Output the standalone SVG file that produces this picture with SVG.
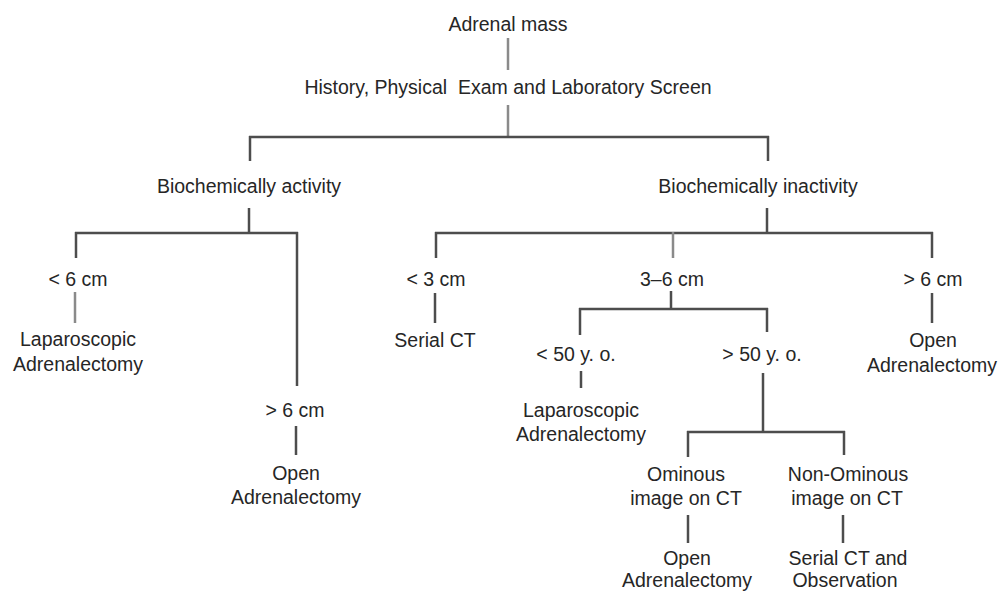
<svg xmlns="http://www.w3.org/2000/svg" width="998" height="593" viewBox="0 0 998 593">
<style>
text{font-family:"Liberation Sans",Arial,sans-serif;font-size:19.5px;fill:#262626;text-anchor:middle}
.c line{stroke:#4d4d4d;stroke-width:2.5;stroke-linecap:butt}
.c line.l{stroke:#8a8a8a}
</style>
<rect width="998" height="593" fill="#fff"/>
<g class="c" id="connectors">
<line class="l" x1="508" y1="38" x2="508" y2="70"/>
<line class="l" x1="508" y1="105" x2="508" y2="137"/>
<line x1="249" y1="137" x2="769" y2="137"/>
<line x1="250" y1="136" x2="250" y2="161"/>
<line x1="768" y1="136" x2="768" y2="161"/>
<line x1="249" y1="208" x2="249" y2="233"/>
<line x1="75" y1="233" x2="298" y2="233"/>
<line x1="76" y1="232" x2="76" y2="258"/>
<line x1="297" y1="232" x2="297" y2="386"/>
<line class="l" x1="75" y1="292" x2="75" y2="323"/>
<line x1="296" y1="426" x2="296" y2="455"/>
<line x1="767" y1="208" x2="767" y2="233"/>
<line x1="435" y1="233" x2="933" y2="233"/>
<line x1="436" y1="232" x2="436" y2="258"/>
<line class="l" x1="673" y1="232" x2="673" y2="258"/>
<line x1="932" y1="232" x2="932" y2="258"/>
<line x1="435" y1="293" x2="435" y2="323"/>
<line x1="932" y1="293" x2="932" y2="323"/>
<line x1="671" y1="291" x2="671" y2="309"/>
<line x1="579" y1="309" x2="768" y2="309"/>
<line x1="580" y1="308" x2="580" y2="335"/>
<line x1="767" y1="308" x2="767" y2="332"/>
<line x1="581" y1="371" x2="581" y2="388"/>
<line x1="763" y1="373" x2="763" y2="432"/>
<line x1="687" y1="432" x2="845" y2="432"/>
<line x1="688" y1="431" x2="688" y2="457"/>
<line x1="844" y1="431" x2="844" y2="455"/>
<line x1="688" y1="515" x2="688" y2="543"/>
<line x1="843" y1="515" x2="843" y2="543"/>
</g>
<g id="n-adrenal-mass"><text x="508" y="31">Adrenal mass</text></g>
<g id="n-history"><text x="508" y="94" xml:space="preserve">History, Physical  Exam and Laboratory Screen</text></g>
<g id="n-active"><text x="249" y="193">Biochemically activity</text></g>
<g id="n-inactive"><text x="758" y="193">Biochemically inactivity</text></g>
<g id="n-a-lt6"><text x="78" y="286">&lt; 6 cm</text></g>
<g id="n-a-lap"><text x="78" y="346">Laparoscopic</text><text x="78" y="371">Adrenalectomy</text></g>
<g id="n-a-gt6"><text x="295" y="417">&gt; 6 cm</text></g>
<g id="n-a-open"><text x="296" y="480">Open</text><text x="296" y="504">Adrenalectomy</text></g>
<g id="n-i-lt3"><text x="436" y="286">&lt; 3 cm</text></g>
<g id="n-i-serial"><text x="435" y="347">Serial CT</text></g>
<g id="n-i-3to6"><text x="672" y="286">3–6 cm</text></g>
<g id="n-i-gt6"><text x="933" y="286">&gt; 6 cm</text></g>
<g id="n-i-open"><text x="933" y="347">Open</text><text x="932" y="372">Adrenalectomy</text></g>
<g id="n-lt50"><text x="576" y="361">&lt; 50 y. o.</text></g>
<g id="n-gt50"><text x="762" y="361">&gt; 50 y. o.</text></g>
<g id="n-lt50-lap"><text x="581" y="417">Laparoscopic</text><text x="581" y="441">Adrenalectomy</text></g>
<g id="n-ominous"><text x="686" y="481">Ominous</text><text x="686" y="505">image on CT</text></g>
<g id="n-nonominous"><text x="848" y="481">Non-Ominous</text><text x="847" y="505">image on CT</text></g>
<g id="n-om-open"><text x="687" y="565">Open</text><text x="687" y="587">Adrenalectomy</text></g>
<g id="n-non-serial"><text x="848" y="565">Serial CT and</text><text x="845" y="587">Observation</text></g>
</svg>
